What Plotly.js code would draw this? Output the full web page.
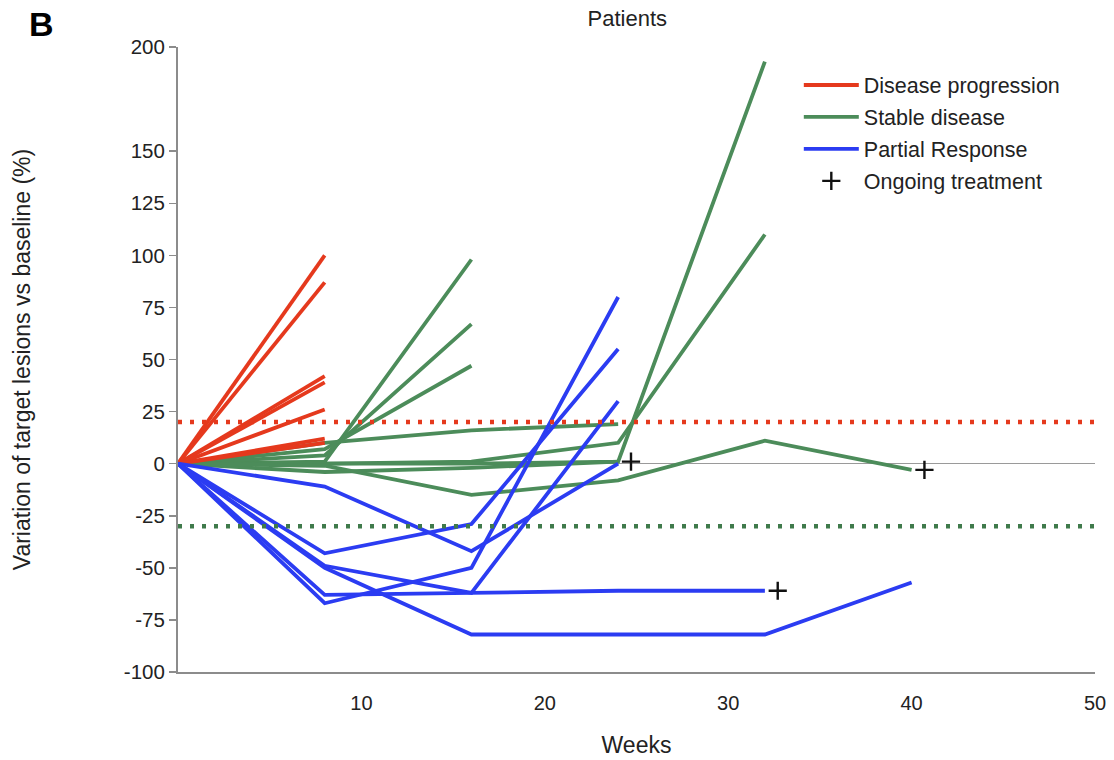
<!DOCTYPE html>
<html>
<head>
<meta charset="utf-8">
<script src="https://cdn.plot.ly/plotly-3.0.1.min.js"></script>
<style>html,body{margin:0;padding:0;background:#fff;}#chart{width:1114px;height:760px;}</style>
</head>
<body>
<div id="chart"></div>
<script>
// ---- data ----
const weeks = [0, 8, 16, 24, 32, 40];

const progressionSeries = [
  [0, 100],
  [0, 87],
  [0, 42],
  [0, 39],
  [0, 26],
  [0, 12],
  [0, 10]
];

const stableSeries = [
  [0, 1, 98],
  [0, 4, 67],
  [0, 7, 47],
  [0, 10, 16, 19],
  [0, 0, 1, 10, 110],
  [0, 0, 0, 1, 193],
  [0, -4, -2, 1],
  [0, -1, -15, -8, 11, -3]
];

const responseSeries = [
  [0, -11, -42, 0],
  [0, -43, -29, 55],
  [0, -67, -50, 80],
  [0, -49, -62, 30],
  [0, -63, -62, -61, -61],
  [0, -50, -82, -82, -82, -57]
];

// patients still on treatment (end of line marked with +)
const ongoingStable = [6, 7];
const ongoingResponse = [4];

const progressionThreshold = 20;
const responseThreshold = -30;

const yTickVals = [-100, -75, -50, -25, 0, 25, 50, 75, 100, 125, 150, 200];
const yTickText = yTickVals.map(v => String(v));
const xTickVals = [10, 20, 30, 40, 50];

// ---- styles ----
const RED = '#e5391d';
const GREEN = '#4c8c5a';
const BLUE = '#2b3cf2';
const FONT = 'Liberation Sans, Arial, Helvetica, sans-serif';

const traces = [];
function addGroup(series, color, name, rank) {
  series.forEach((vals, i) => {
    traces.push({
      type: 'scatter', mode: 'lines',
      x: weeks.slice(0, vals.length), y: vals,
      line: {color: color, width: 3.8},
      name: name, legendgroup: name, legendrank: rank,
      showlegend: i === 0, hoverinfo: 'x+y'
    });
  });
}
addGroup(stableSeries, GREEN, 'Stable disease', 2);
addGroup(progressionSeries, RED, 'Disease progression', 1);
addGroup(responseSeries, BLUE, 'Partial Response', 3);

const ox = [], oy = [];
ongoingStable.forEach(i => { const v = stableSeries[i]; ox.push(weeks[v.length - 1] + 0.7); oy.push(v[v.length - 1]); });
ongoingResponse.forEach(i => { const v = responseSeries[i]; ox.push(weeks[v.length - 1] + 0.7); oy.push(v[v.length - 1]); });
traces.push({
  type: 'scatter', mode: 'markers', x: ox, y: oy,
  marker: {symbol: 'cross-thin', size: 13, color: '#111', line: {color: '#111', width: 2.4}},
  name: 'Ongoing treatment', legendgroup: 'ongoing', legendrank: 4, showlegend: true
});

const layout = {
  width: 1114, height: 760,
  margin: {l: 178, r: 19, t: 47, b: 88},
  paper_bgcolor: '#fff', plot_bgcolor: '#fff',
  font: {family: FONT, size: 21, color: '#222'},
  title: {text: 'Patients', font: {family: FONT, size: 22, color: '#222'}, x: 0.49, xref: 'paper', xanchor: 'center', y: 0.976, yref: 'container', yanchor: 'middle'},
  showlegend: true,
  legend: {x: 0.677, y: 0.972, xanchor: 'left', yanchor: 'top', font: {family: FONT, size: 21.5, color: '#222'},
           traceorder: 'grouped', tracegroupgap: 1, itemwidth: 55, bgcolor: 'rgba(0,0,0,0)'},
  xaxis: {
    range: [0, 50], tickvals: xTickVals, ticks: 'outside', ticklen: 12, tickcolor: 'rgba(0,0,0,0)',
    showgrid: false, zeroline: false, showline: true, linecolor: '#8c8c8c', linewidth: 2,
    tickfont: {family: FONT, size: 20, color: '#222'},
    title: {text: 'Weeks', font: {family: FONT, size: 23, color: '#222'}, standoff: 24}
  },
  yaxis: {
    range: [-100, 200], tickvals: yTickVals, ticktext: yTickText, ticks: 'outside', ticklen: 7, tickcolor: '#8c8c8c', tickwidth: 1.5,
    showgrid: false, zeroline: true, zerolinecolor: '#9a9a9a', zerolinewidth: 1,
    showline: true, linecolor: '#8c8c8c', linewidth: 2,
    tickfont: {family: FONT, size: 20.5, color: '#222'},
    title: {text: 'Variation of target lesions vs baseline (%)', font: {family: FONT, size: 23, color: '#222'}, standoff: 87}
  },
  shapes: [
    {type: 'line', xref: 'paper', x0: 0, x1: 1.005, yref: 'y', y0: progressionThreshold, y1: progressionThreshold,
     line: {color: RED, width: 4.5, dash: '4px,8px'}, layer: 'above'},
    {type: 'line', xref: 'paper', x0: 0, x1: 1.005, yref: 'y', y0: responseThreshold, y1: responseThreshold,
     line: {color: '#3f7a4b', width: 4.5, dash: '4px,8px'}, layer: 'above'}
  ],
  annotations: [
    {text: '<b>B</b>', xref: 'paper', yref: 'paper', x: -0.1485, y: 1.036, xanchor: 'center', yanchor: 'middle',
     showarrow: false, font: {family: FONT, size: 34, color: '#000'}}
  ]
};

Plotly.newPlot('chart', traces, layout, {displayModeBar: false, staticPlot: true});
</script>
</body>
</html>
